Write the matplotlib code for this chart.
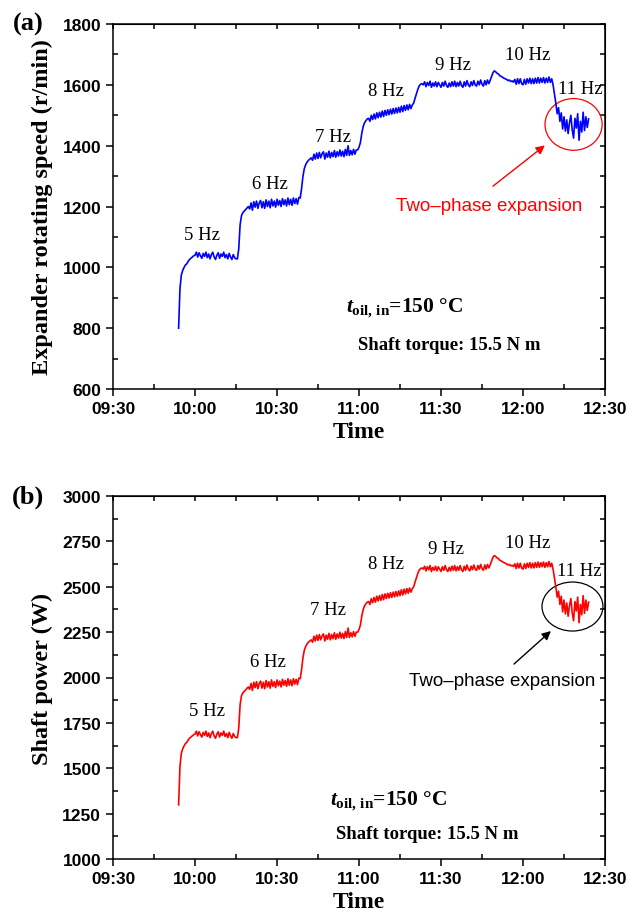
import numpy as np
import matplotlib
matplotlib.use("Agg")
import matplotlib.pyplot as plt
from matplotlib.patches import Ellipse
from matplotlib.ticker import FixedLocator, MultipleLocator

plt.rcParams['mathtext.fontset'] = 'custom'
plt.rcParams['mathtext.rm'] = 'Liberation Serif:bold'
plt.rcParams['mathtext.it'] = 'Liberation Serif:italic:bold'
plt.rcParams['mathtext.bf'] = 'Liberation Serif:bold'

# expander speed (r/min), one reading every 0.5 min starting 09:54
speed = [
    800, 930, 975, 990, 1000, 1008, 1012, 1020, 1026, 1030, 1034, 1038,
    # 5 Hz
    1040, 1050, 1034, 1048, 1038, 1030, 1046, 1036, 1050, 1032,
    1044, 1028, 1042, 1050, 1034, 1026, 1040, 1048, 1030, 1044,
    1036, 1050, 1032, 1042, 1028, 1046, 1034, 1026, 1042, 1032, 1028,
    1028, 1060, 1140, 1170, 1180, 1185, 1190, 1195, 1200,
    # 6 Hz
    1192, 1212, 1188, 1216, 1198, 1218, 1194, 1212, 1220, 1196,
    1216, 1194, 1222, 1200, 1218, 1196, 1224, 1202, 1218, 1198,
    1224, 1204, 1220, 1200, 1226, 1206, 1222, 1202, 1228, 1206,
    1224, 1204, 1228, 1210, 1226, 1208, 1230,
    1228, 1260, 1300, 1325, 1338, 1346, 1352, 1356, 1360,
    # 7 Hz
    1352, 1372, 1356, 1376, 1358, 1378, 1360, 1374, 1380, 1356,
    1376, 1362, 1382, 1360, 1378, 1364, 1384, 1362, 1380, 1366,
    1386, 1366, 1382, 1364, 1388, 1368, 1400, 1368, 1384, 1370,
    1388, 1372, 1386,
    1386, 1395, 1410, 1440, 1462, 1475, 1482, 1488, 1490,
    # 8 Hz
    1480, 1500, 1486, 1504, 1488, 1508, 1492, 1510, 1494, 1514,
    1496, 1516, 1500, 1518, 1502, 1520, 1504, 1522, 1506, 1524,
    1508, 1526, 1510, 1530, 1512, 1532, 1516, 1534, 1518, 1536,
    1522, 1534,
    1540, 1556, 1570, 1585, 1596, 1602, 1604, 1600,
    # 9 Hz
    1610, 1594, 1608, 1598, 1612, 1592, 1606, 1596, 1610, 1594,
    1608, 1600, 1592, 1608, 1596, 1612, 1598, 1592, 1606, 1594,
    1610, 1596, 1612, 1594, 1608, 1596, 1612, 1598, 1592, 1610,
    1596, 1614, 1600, 1594, 1610, 1598, 1614, 1600, 1596, 1612,
    1600, 1616, 1602, 1596, 1614, 1600, 1616, 1604,
    # 10 Hz
    1615, 1628, 1640, 1646, 1643, 1638, 1636, 1630, 1628, 1625,
    1622, 1620, 1618, 1614, 1616, 1611, 1613, 1609,
    1618, 1602, 1620, 1604, 1620, 1604, 1600, 1618, 1602, 1620,
    1606, 1622, 1604, 1620, 1604, 1622, 1606, 1624, 1606, 1622,
    1608, 1624, 1606, 1622, 1608, 1626, 1608, 1620,
    1600, 1570, 1540, 1505, 1525, 1480,
    # 11 Hz
    1508, 1455, 1495, 1448, 1485, 1440, 1475, 1500, 1452, 1425,
    1490, 1458, 1505, 1418, 1480, 1445, 1510, 1450, 1495, 1460,
    1488,
]

t_start = 24.0   # minutes after 09:30
dt = 0.5
torque = 15.5    # N m

speed = np.array(speed, dtype=float)
minutes = t_start + dt * np.arange(len(speed))
power = torque * 2 * np.pi * speed / 60.0

time_ticks = [0, 30, 60, 90, 120, 150, 180]
time_labels = ["09:30", "10:00", "10:30", "11:00", "11:30", "12:00", "12:30"]

freq_labels = ["5 Hz", "6 Hz", "7 Hz", "8 Hz", "9 Hz", "10 Hz", "11 Hz"]
freq_pos_a = [(32.5, 1107), (57.4, 1277), (80.5, 1429), (99.8, 1583),
              (124.4, 1666), (151.6, 1699), (170.8, 1589)]
freq_pos_b = [(34.5, 1817), (56.5, 2089), (78.6, 2373), (99.9, 2629),
              (121.8, 2713), (151.6, 2745), (170.6, 2589)]

SERIF = 'Liberation Serif'
SANS = 'Liberation Sans'

fig = plt.figure(figsize=(6.32, 9.2), dpi=100)
ax_a = fig.add_axes([0.1788, 0.576, 0.7785, 0.3968])
ax_b = fig.add_axes([0.1788, 0.0652, 0.7785, 0.3946])


def style_axes(ax, ymin, ymax, ymajor, yminor):
    ax.set_xlim(0, 180)
    ax.set_ylim(ymin, ymax)
    ax.xaxis.set_major_locator(FixedLocator(time_ticks))
    ax.set_xticklabels(time_labels)
    ax.xaxis.set_minor_locator(MultipleLocator(15))
    ax.yaxis.set_major_locator(MultipleLocator(ymajor))
    ax.yaxis.set_minor_locator(MultipleLocator(yminor))
    ax.tick_params(which='major', direction='out', length=5, width=1.1)
    ax.tick_params(which='minor', direction='in', length=3.5, width=1.1)
    for lab in ax.get_xticklabels() + ax.get_yticklabels():
        lab.set_fontfamily(SANS)
        lab.set_fontweight('bold')
        lab.set_fontsize(12.5)
    for sp in ax.spines.values():
        sp.set_linewidth(1.1)
    # inward ticks on the top and right frame
    top = ax.secondary_xaxis('top')
    top.xaxis.set_major_locator(FixedLocator(time_ticks))
    top.xaxis.set_minor_locator(MultipleLocator(15))
    top.tick_params(which='both', direction='in', length=3.5, width=1.1,
                    labeltop=False)
    right = ax.secondary_yaxis('right')
    right.yaxis.set_major_locator(MultipleLocator(ymajor))
    right.yaxis.set_minor_locator(MultipleLocator(yminor))
    right.tick_params(which='both', direction='in', length=3.5, width=1.1,
                      labelright=False)
    ax.set_xlabel('Time', fontfamily=SERIF, fontweight='bold', fontsize=17,
                  labelpad=4)


# (a) rotating speed
ax_a.plot(minutes, speed, color='#0000ff', lw=1.2)
style_axes(ax_a, 600, 1800, 200, 100)
ax_a.set_ylabel('Expander rotating speed (r/min)', fontfamily=SERIF,
                fontweight='bold', fontsize=17.5, labelpad=7)
for lab, (x, y) in zip(freq_labels, freq_pos_a):
    ax_a.text(x, y, lab, fontfamily=SERIF, fontsize=13.5, ha='center', va='center')
ax_a.add_patch(Ellipse((168.5, 1470), 20.9, 170, fill=False, ec='#ff0000', lw=0.9))
ax_a.annotate('', xy=(158, 1401), xytext=(139, 1267),
              arrowprops=dict(arrowstyle='-|>', color='#ff0000', lw=1.0,
                              mutation_scale=13, shrinkA=0, shrinkB=0))
ax_a.text(137.6, 1203, 'Two\u2013phase expansion', color='#ff0000', fontfamily=SANS,
          fontsize=13.5, ha='center', va='center')
ax_a.text(106.8, 868, r'$t_{\mathrm{oil,\,in}}$=150 °C', fontfamily=SERIF,
          fontweight='bold', fontsize=15.5, ha='center', va='center')
ax_a.text(122.9, 747, 'Shaft torque: 15.5 N m', fontfamily=SERIF,
          fontweight='bold', fontsize=13.5, ha='center', va='center')

# (b) shaft power
ax_b.plot(minutes, power, color='#ff0000', lw=1.2)
style_axes(ax_b, 1000, 3000, 250, 125)
ax_b.set_ylabel('Shaft power (W)', fontfamily=SERIF, fontweight='bold',
                fontsize=17.5, labelpad=7)
for lab, (x, y) in zip(freq_labels, freq_pos_b):
    ax_b.text(x, y, lab, fontfamily=SERIF, fontsize=13.5, ha='center', va='center')
ax_b.add_patch(Ellipse((168.1, 2391), 22.3, 270, fill=False, ec='black', lw=0.9))
ax_b.annotate('', xy=(160.2, 2256), xytext=(146.7, 2074),
              arrowprops=dict(arrowstyle='-|>', color='black', lw=1.0,
                              mutation_scale=13, shrinkA=0, shrinkB=0))
ax_b.text(142.5, 1981, 'Two\u2013phase expansion', color='black', fontfamily=SANS,
          fontsize=13.5, ha='center', va='center')
ax_b.text(101, 1325, r'$t_{\mathrm{oil,\,in}}$=150 °C', fontfamily=SERIF,
          fontweight='bold', fontsize=15.5, ha='center', va='center')
ax_b.text(114.9, 1138, 'Shaft torque: 15.5 N m', fontfamily=SERIF,
          fontweight='bold', fontsize=13.5, ha='center', va='center')

fig.text(0.045, 0.973, '(a)', fontfamily=SERIF, fontweight='bold', fontsize=19,
         ha='center', va='center')
fig.text(0.045, 0.459, '(b)', fontfamily=SERIF, fontweight='bold', fontsize=19,
         ha='center', va='center')

fig.savefig('out.png', dpi=100)
